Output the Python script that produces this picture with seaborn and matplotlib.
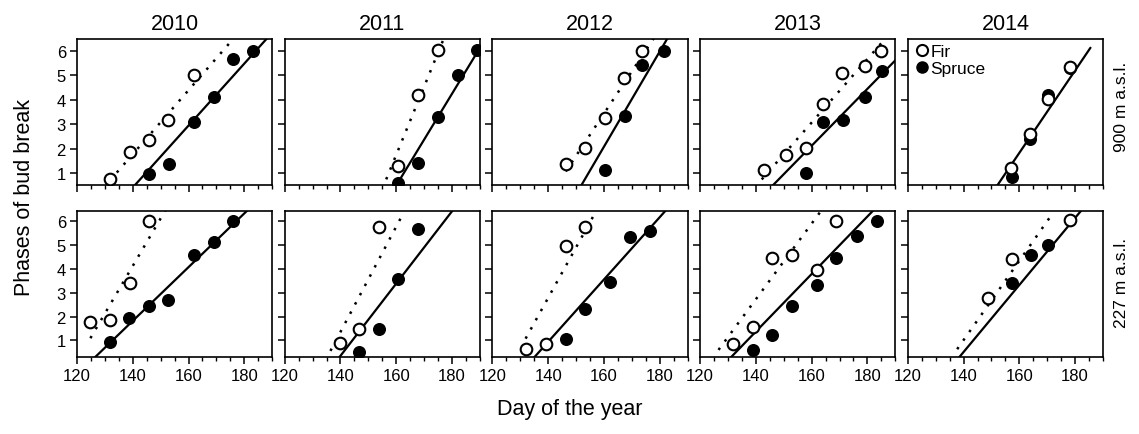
import numpy as np
import pandas as pd
import matplotlib
matplotlib.use("Agg")
import matplotlib.pyplot as plt
from matplotlib.ticker import MultipleLocator
from matplotlib.lines import Line2D
import seaborn as sns

sns.set_theme(style="ticks")
plt.rcParams['font.family'] = ['Liberation Sans', 'DejaVu Sans']
plt.rcParams['text.color'] = 'black'
plt.rcParams['axes.labelcolor'] = 'black'
plt.rcParams['xtick.color'] = 'black'
plt.rcParams['ytick.color'] = 'black'

years = [2010, 2011, 2012, 2013, 2014]
sites = ["900 m a.s.l.", "227 m a.s.l."]

# ---- observed points: (day of year, phase) ----
fir_900_day = {2010: [131.8, 139.0, 145.9, 152.8, 161.8],
               2011: [160.8, 167.8, 175.0],
               2012: [146.3, 153.3, 160.3, 167.2, 173.6],
               2013: [143.0, 150.9, 157.8, 164.1, 170.9, 179.1, 184.8],
               2014: [157.0, 163.9, 170.2, 178.0]}
fir_900_phase = {2010: [0.75, 1.86, 2.35, 3.17, 5.0],
                 2011: [1.29, 4.2, 6.02],
                 2012: [1.36, 2.01, 3.25, 4.88, 5.98],
                 2013: [1.15, 1.76, 2.03, 3.82, 5.08, 5.35, 5.98],
                 2014: [1.22, 2.60, 4.04, 5.32]}
spruce_900_day = {2010: [145.8, 152.9, 161.8, 169.0, 176.0, 183.0],
                  2011: [160.8, 167.8, 175.0, 182.2, 189.1],
                  2012: [160.5, 167.4, 173.6, 181.4],
                  2013: [158.1, 164.1, 171.2, 179.1, 185.2],
                  2014: [157.2, 163.9, 170.2, 178.0]}
spruce_900_phase = {2010: [0.95, 1.36, 3.08, 4.09, 5.66, 6.0],
                    2011: [0.61, 1.40, 3.29, 5.01, 6.02],
                    2012: [1.15, 3.32, 5.42, 5.98],
                    2013: [1.02, 3.08, 3.16, 4.09, 5.15],
                    2014: [0.86, 2.40, 4.20, 5.28]}
fir_227_day = {2010: [124.8, 131.8, 139.0, 145.9],
               2011: [140.0, 146.8, 153.8],
               2012: [131.9, 139.1, 146.3, 153.3],
               2013: [131.8, 139.0, 145.9, 153.1, 162.0, 168.9],
               2014: [148.9, 157.2, 178.0]}
fir_227_phase = {2010: [1.77, 1.84, 3.42, 6.0],
                 2011: [0.88, 1.46, 5.76],
                 2012: [0.63, 0.84, 4.98, 5.75],
                 2013: [0.84, 1.56, 4.46, 4.58, 3.95, 6.0],
                 2014: [2.79, 4.42, 6.07]}
spruce_227_day = {2010: [131.8, 138.7, 145.9, 152.8, 161.8, 169.0, 176.0],
                  2011: [146.8, 153.8, 160.8, 167.8],
                  2012: [146.4, 153.3, 162.3, 169.3, 176.6],
                  2013: [139.0, 145.9, 153.1, 162.0, 168.9, 176.1, 183.3],
                  2014: [157.2, 164.2, 170.2]}
spruce_227_phase = {2010: [0.94, 1.92, 2.44, 2.68, 4.60, 5.13, 6.0],
                    2011: [0.53, 1.46, 3.60, 5.68],
                    2012: [1.05, 2.33, 3.45, 5.33, 5.58],
                    2013: [0.60, 1.23, 2.44, 3.32, 4.46, 5.40, 6.0],
                    2014: [3.42, 4.60, 5.02]}

# ---- fitted lines: (slope, phase at day 150, first day, last day) ----
fir_900_fit = {2010: (0.1305, 3.08, 131.8, 195),
               2011: (0.278, -1.03, 156.4, 195),
               2012: (0.172, 1.71, 146.3, 195),
               2013: (0.1295, 1.77, 142.1, 195),
               2014: None}
spruce_900_fit = {2010: (0.1263, 1.68, 135, 195),
                  2011: (0.187, -1.37, 155, 190),
                  2012: (0.194, 0.14, 145, 195),
                  2013: (0.116, 0.96, 140, 195),
                  2014: (0.168, 0.15, 145, 185.5)}
fir_227_fit = {2010: (0.200, 6.13, 124.8, 195),
               2011: (0.2215, 3.57, 136.4, 162.4),
               2012: (0.212, 4.91, 131.9, 157.1),
               2013: (0.159, 4.32, 126.6, 163.1),
               2014: (0.1668, 2.68, 137.7, 172.0)}
spruce_227_fit = {2010: (0.113, 2.95, 120, 195),
                  2011: (0.152, 1.87, 130, 195),
                  2012: (0.131, 2.25, 125, 195),
                  2013: (0.121, 2.58, 125, 195),
                  2014: (0.141, 1.92, 130, 195)}

x_ticks = [120, 140, 160, 180]
y_ticks = [1, 2, 3, 4, 5, 6]

rows = [(fir_900_day, fir_900_phase, spruce_900_day, spruce_900_phase, fir_900_fit, spruce_900_fit),
        (fir_227_day, fir_227_phase, spruce_227_day, spruce_227_phase, fir_227_fit, spruce_227_fit)]
row_ylim = [(0.5, 6.47), (0.3, 6.46)]

fig, axes = plt.subplots(2, 5, figsize=(11.39, 4.35), dpi=100)
fig.patch.set_facecolor("white")
fig.subplots_adjust(left=0.0676, right=0.9684, top=0.908, bottom=0.177,
                    wspace=0.064, hspace=0.171)

MS = 70
for r, (fd, fp, sd, sp, ffit, sfit) in enumerate(rows):
    for c, yr in enumerate(years):
        ax = axes[r, c]
        ax.set_facecolor("white")
        # lines
        for fit, ls in ((sfit[yr], '-'), (ffit[yr], (0, (1, 3.2)))):
            if fit is None:
                continue
            m, y150, xa, xb = fit
            xs = np.array([xa, xb])
            ys = y150 + m * (xs - 150)
            df_line = pd.DataFrame({"day": xs, "phase": ys})
            sns.lineplot(data=df_line, x="day", y="phase", ax=ax, color="black",
                         linestyle=ls, linewidth=1.6 if ls == '-' else 1.8,
                         estimator=None, sort=False)
        df_s = pd.DataFrame({"day": sd[yr], "phase": sp[yr]})
        df_f = pd.DataFrame({"day": fd[yr], "phase": fp[yr]})
        sns.scatterplot(data=df_s, x="day", y="phase", ax=ax, s=MS, marker='o',
                        facecolor="black", edgecolor="black", linewidth=1.0, zorder=3)
        sns.scatterplot(data=df_f, x="day", y="phase", ax=ax, s=MS, marker='o',
                        facecolor="white", edgecolor="black", linewidth=1.5, zorder=4)
        ax.set_xlim(120, 190)
        ax.set_ylim(*row_ylim[r])
        ax.set_xticks(x_ticks)
        ax.xaxis.set_minor_locator(MultipleLocator(5))
        ax.set_yticks(y_ticks)
        ax.tick_params(axis='both', which='major', direction='out', length=5,
                       width=1.1, labelsize=12, color='black', labelcolor='black', pad=3)
        ax.tick_params(axis='x', which='minor', direction='out', length=3, width=1.0,
                       color='black')
        ax.set_xlabel("")
        ax.set_ylabel("")
        for sp_ in ax.spines.values():
            sp_.set_visible(True)
            sp_.set_linewidth(1.2)
            sp_.set_color("black")
        if r == 0:
            ax.tick_params(axis='x', labelbottom=False)
            ax.set_title(str(yr), fontsize=15.5, pad=7, color='black')
        if c != 0:
            ax.tick_params(axis='y', labelleft=False)

# legend in 2014 upper panel
handles = [Line2D([], [], marker='o', linestyle='none', markerfacecolor='white',
                  markeredgecolor='black', markersize=8, markeredgewidth=1.5, label='Fir'),
           Line2D([], [], marker='o', linestyle='none', markerfacecolor='black',
                  markeredgecolor='black', markersize=8, label='Spruce')]
axes[0, 4].legend(handles=handles, loc='upper left', frameon=False, fontsize=12.5,
                  handletextpad=0.0, borderaxespad=0.1, handlelength=1.0,
                  labelspacing=0.1, borderpad=0.2)

fig.text(25 / 1139, 1 - 197 / 435, "Phases of bud break", rotation=90,
         ha='center', va='center', fontsize=15.5)
fig.text(570 / 1139, 1 - 410 / 435, "Day of the year", ha='center', va='center',
         fontsize=15.5)
fig.text(1121.7 / 1139, 1 - 107 / 435, sites[0], rotation=90, ha='center',
         va='center', fontsize=12.5)
fig.text(1121.7 / 1139, 1 - 283 / 435, sites[1], rotation=90, ha='center',
         va='center', fontsize=12.5)

fig.savefig("out.png", dpi=100, facecolor="white")
